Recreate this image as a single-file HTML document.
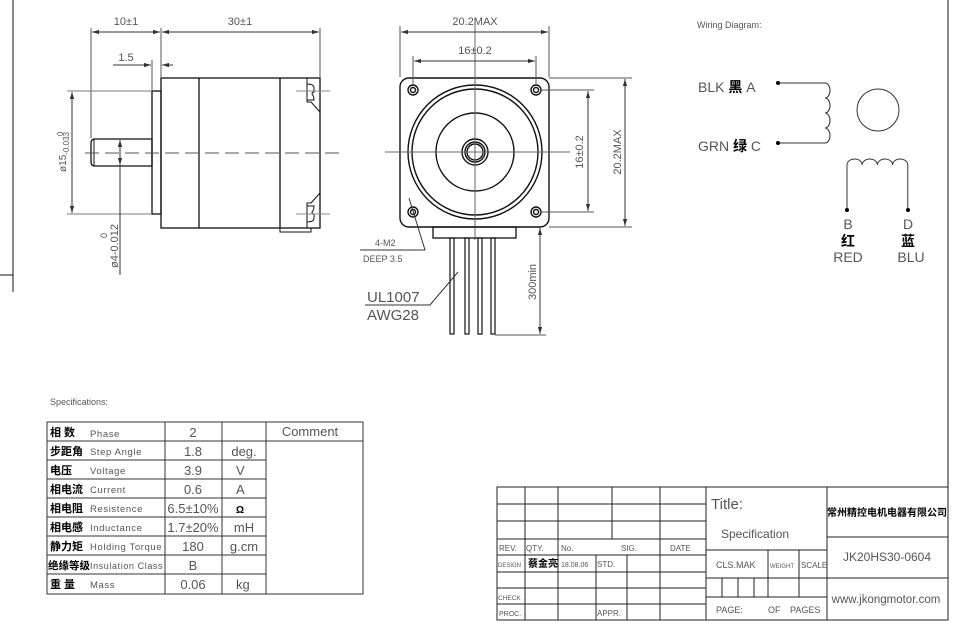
<!DOCTYPE html>
<html><head><meta charset="utf-8"><style>
html,body{margin:0;padding:0;background:#fff;}
svg{display:block;}
text{font-family:"Liberation Sans","Noto Sans CJK SC",sans-serif;fill:#555;}
.b{fill:#000;font-weight:bold;}
.e{letter-spacing:0.6px;}
</style></head><body>
<svg width="954" height="628" viewBox="0 0 954 628" xmlns="http://www.w3.org/2000/svg">
<defs>
<marker id="a" viewBox="0 0 10 10" refX="10" refY="5" markerWidth="7" markerHeight="7" orient="auto-start-reverse"><path d="M0,2 L10,5 L0,8 z" fill="#333"/></marker>
</defs>
<g stroke="#111" fill="none" stroke-width="1">
<line x1="13" y1="0" x2="13" y2="292"/><line x1="0" y1="275" x2="13" y2="275"/>
<line x1="948" y1="0" x2="948" y2="620"/>
<path d="M95,139 H152 V166 H95 Q91,166 91,162 V143 Q91,139 95,139 Z" stroke-width="1.3"/>
<line x1="94" y1="139" x2="94" y2="166"/>
<rect x="152" y="91" width="9" height="123" stroke-width="1.3"/>
<rect x="161" y="78" width="159" height="150" stroke-width="1.3"/>
<line x1="199" y1="78" x2="199" y2="228" stroke-width="1.3"/>
<line x1="280" y1="78" x2="280" y2="228" stroke-width="1.3"/>
<rect x="280" y="228" width="31" height="4"/>
<path d="M307,78 V102 H311 L320,112 M307,102 V84 Q314,84 314,88 V92 Q312,92 312,94 Q314,96 314,100 H307" />
<path d="M307,228 V203 H311 L320,193 M307,203 V222 Q314,222 314,218 V214 Q312,214 312,212 Q314,210 314,206 H307" />
<line x1="85" y1="153" x2="340" y2="153" stroke="#555" stroke-dasharray="14,6"/>
<line x1="296" y1="91" x2="330" y2="91" stroke="#888"/><line x1="296" y1="214" x2="330" y2="214" stroke="#888"/>
<line x1="91" y1="28" x2="91" y2="138" stroke="#555"/>
<line x1="161" y1="28" x2="161" y2="77" stroke="#555"/>
<line x1="320" y1="28" x2="320" y2="77" stroke="#555"/>
<line x1="152" y1="60" x2="152" y2="90" stroke="#555"/>
<line x1="92" y1="32" x2="160" y2="32" stroke="#333" marker-start="url(#a)" marker-end="url(#a)"/>
<line x1="162" y1="32" x2="319" y2="32" stroke="#333" marker-start="url(#a)" marker-end="url(#a)"/>
<line x1="113" y1="65" x2="151" y2="65" stroke="#333" marker-end="url(#a)"/>
<line x1="173" y1="65" x2="162" y2="65" stroke="#333" marker-end="url(#a)"/>
<line x1="67" y1="91" x2="151" y2="91" stroke="#777"/><line x1="67" y1="214" x2="151" y2="214" stroke="#777"/>
<line x1="72" y1="92" x2="72" y2="213" stroke="#333" marker-start="url(#a)" marker-end="url(#a)"/>
<line x1="120" y1="140" x2="120" y2="165" stroke="#333" marker-start="url(#a)" marker-end="url(#a)"/>
<line x1="120" y1="165" x2="120" y2="275" stroke="#333"/>
<rect x="400" y="78" width="149" height="149" rx="9" stroke-width="1.4"/>
<g stroke-width="1.4">
<circle cx="413" cy="90" r="5"/><circle cx="413" cy="90" r="2.5"/>
<circle cx="536" cy="90" r="5"/><circle cx="536" cy="90" r="2.5"/>
<circle cx="413" cy="212" r="5"/><circle cx="413" cy="212" r="2.5"/>
<circle cx="536" cy="212" r="5"/><circle cx="536" cy="212" r="2.5"/>
<circle cx="475" cy="152" r="67"/><circle cx="475" cy="152" r="63"/>
<circle cx="475" cy="152" r="39"/>
<circle cx="475" cy="152" r="13"/><circle cx="475" cy="152" r="10"/><circle cx="475" cy="152" r="8"/>
</g>
<line x1="385" y1="152" x2="570" y2="152" stroke="#666"/>
<line x1="475" y1="18" x2="475" y2="240" stroke="#666"/>
<rect x="433" y="227" width="83" height="11" stroke-width="1.3"/>
<g stroke-width="1.2">
<rect x="450" y="238" width="4" height="96"/><rect x="465" y="238" width="4" height="96"/>
<rect x="478" y="238" width="4" height="96"/><rect x="491" y="238" width="4" height="96"/>
</g>
<line x1="400" y1="26" x2="400" y2="77" stroke="#555"/><line x1="549" y1="26" x2="549" y2="77" stroke="#555"/>
<line x1="413" y1="56" x2="413" y2="85" stroke="#555"/><line x1="536" y1="56" x2="536" y2="85" stroke="#555"/>
<line x1="401" y1="32" x2="548" y2="32" stroke="#333" marker-start="url(#a)" marker-end="url(#a)"/>
<line x1="414" y1="61" x2="535" y2="61" stroke="#333" marker-start="url(#a)" marker-end="url(#a)"/>
<line x1="541" y1="90" x2="594" y2="90" stroke="#555"/><line x1="541" y1="212" x2="594" y2="212" stroke="#555"/>
<line x1="549" y1="78" x2="632" y2="78" stroke="#555"/><line x1="549" y1="227" x2="632" y2="227" stroke="#555"/>
<line x1="588" y1="91" x2="588" y2="211" stroke="#333" marker-start="url(#a)" marker-end="url(#a)"/>
<line x1="625" y1="79" x2="625" y2="226" stroke="#333" marker-start="url(#a)" marker-end="url(#a)"/>
<line x1="495" y1="335" x2="546" y2="335" stroke="#555"/>
<line x1="540" y1="228" x2="540" y2="334" stroke="#333" marker-start="url(#a)" marker-end="url(#a)"/>
<polyline points="409,198 425,250 360,250" stroke="#333"/>
<polyline points="458,272 430,305 365,305" stroke="#333"/>
<g stroke="#333">
<polyline points="778,83 825,83"/>
<path d="M825,83 a5,7.5 0 0 1 0,15 a5,7.5 0 0 1 0,15 a5,7.5 0 0 1 0,15 a5,7.5 0 0 1 0,15"/>
<polyline points="778,143 825,143"/>
<circle cx="878" cy="110" r="21"/>
<path d="M847,210 V165 a7.6,6 0 0 1 15.2,0 a7.6,6 0 0 1 15.2,0 a7.6,6 0 0 1 15.2,0 a7.6,6 0 0 1 15.2,0 V210"/>
</g>
<g fill="#000" stroke="none">
<circle cx="778" cy="83" r="2"/><circle cx="778" cy="143" r="2"/><circle cx="847" cy="210" r="2"/><circle cx="908" cy="210" r="2"/>
</g>
<g stroke="#333">
<rect x="47" y="422" width="316" height="172"/>
<line x1="47" y1="441" x2="363" y2="441"/>
<line x1="47" y1="460" x2="266" y2="460"/><line x1="47" y1="479" x2="266" y2="479"/>
<line x1="47" y1="498" x2="266" y2="498"/><line x1="47" y1="517" x2="266" y2="517"/>
<line x1="47" y1="536" x2="266" y2="536"/><line x1="47" y1="555" x2="266" y2="555"/>
<line x1="47" y1="574" x2="266" y2="574"/>
<line x1="165" y1="422" x2="165" y2="594"/><line x1="222" y1="422" x2="222" y2="594"/><line x1="266" y1="422" x2="266" y2="594"/>
</g>
<g stroke="#222">
<rect x="497" y="487" width="451" height="133"/>
<line x1="497" y1="504" x2="706" y2="504"/><line x1="497" y1="521" x2="706" y2="521"/>
<line x1="497" y1="539" x2="706" y2="539"/><line x1="497" y1="555" x2="706" y2="555"/>
<line x1="497" y1="572" x2="706" y2="572"/><line x1="497" y1="588" x2="706" y2="588"/>
<line x1="497" y1="604" x2="706" y2="604"/>
<line x1="525" y1="487" x2="525" y2="620"/><line x1="558" y1="487" x2="558" y2="620"/>
<line x1="612" y1="487" x2="612" y2="539"/><line x1="596" y1="555" x2="596" y2="620"/>
<line x1="627" y1="555" x2="627" y2="620"/>
<line x1="660" y1="487" x2="660" y2="620"/>
<line x1="706" y1="487" x2="706" y2="620"/><line x1="827" y1="487" x2="827" y2="620"/>
<line x1="706" y1="550" x2="827" y2="550"/><line x1="706" y1="578" x2="948" y2="578"/>
<line x1="706" y1="597" x2="827" y2="597"/>
<line x1="827" y1="537" x2="948" y2="537"/>
<line x1="768" y1="550" x2="768" y2="597"/><line x1="799" y1="550" x2="799" y2="597"/>
<line x1="722" y1="578" x2="722" y2="597"/><line x1="738" y1="578" x2="738" y2="597"/><line x1="754" y1="578" x2="754" y2="597"/>
</g>
</g>
<g font-size="11">
<text x="126" y="25" text-anchor="middle">10±1</text>
<text x="240" y="25" text-anchor="middle">30±1</text>
<text x="126" y="61" text-anchor="middle">1.5</text>
<text transform="translate(66,152) rotate(-90)" text-anchor="middle" font-size="10">ø15<tspan font-size="8" dy="3">-0.033</tspan></text>
<text transform="translate(63,136) rotate(-90)" font-size="8">0</text>
<text transform="translate(118,246) rotate(-90)" text-anchor="middle">ø4-0.012</text>
<text transform="translate(107,238) rotate(-90)" font-size="9">0</text>
<text x="475" y="25" text-anchor="middle">20.2MAX</text>
<text x="475" y="54" text-anchor="middle">16±0.2</text>
<text transform="translate(583,152) rotate(-90)" text-anchor="middle">16±0.2</text>
<text transform="translate(621,152) rotate(-90)" text-anchor="middle">20.2MAX</text>
<text transform="translate(536,282) rotate(-90)" text-anchor="middle">300min</text>
<text x="375" y="246" font-size="9">4-M2</text>
<text x="363" y="262" font-size="9">DEEP 3.5</text>
<text x="367" y="302" font-size="15">UL1007</text>
<text x="367" y="320" font-size="15">AWG28</text>
<text x="697" y="28" font-size="9">Wiring Diagram:</text>
<text x="698" y="92" font-size="14">BLK <tspan class="b">黑</tspan> A</text>
<text x="698" y="151" font-size="14">GRN <tspan class="b">绿</tspan> C</text>
<text x="848" y="229" font-size="14" text-anchor="middle">B</text>
<text x="908" y="229" font-size="14" text-anchor="middle">D</text>
<text x="848" y="246" font-size="14" text-anchor="middle" class="b">红</text>
<text x="908" y="246" font-size="14" text-anchor="middle" class="b">蓝</text>
<text x="848" y="262" font-size="14" text-anchor="middle">RED</text>
<text x="911" y="262" font-size="14" text-anchor="middle">BLU</text>
<text x="50" y="405" font-size="9">Specifications:</text>
</g>
<g font-size="9.5">
<text x="50" y="436" class="b" font-size="11">相 数</text><text x="90" y="437" class="e">Phase</text>
<text x="50" y="455" class="b" font-size="11">步距角</text><text x="90" y="455" class="e">Step Angle</text>
<text x="50" y="474" class="b" font-size="11">电压</text><text x="90" y="474" class="e">Voltage</text>
<text x="50" y="493" class="b" font-size="11">相电流</text><text x="90" y="493" class="e">Current</text>
<text x="50" y="512" class="b" font-size="11">相电阻</text><text x="90" y="512" class="e">Resistence</text>
<text x="50" y="531" class="b" font-size="11">相电感</text><text x="90" y="531" class="e">Inductance</text>
<text x="50" y="550" class="b" font-size="11">静力矩</text><text x="90" y="550" class="e">Holding Torque</text>
<text x="48" y="569" class="b" font-size="10.5">绝缘等级</text><text x="90" y="569" class="e" font-size="9">Insulation Class</text>
<text x="50" y="588" class="b" font-size="11">重 量</text><text x="90" y="588" class="e">Mass</text>
</g>
<g font-size="13" text-anchor="middle">
<text x="193" y="437">2</text><text x="193" y="456">1.8</text><text x="193" y="475">3.9</text>
<text x="193" y="494">0.6</text><text x="193" y="513">6.5±10%</text><text x="193" y="532">1.7±20%</text>
<text x="193" y="551">180</text><text x="193" y="570">B</text><text x="193" y="589">0.06</text>
<text x="244" y="456">deg.</text><text x="236" y="475" text-anchor="start">V</text><text x="236" y="494" text-anchor="start">A</text>
<text x="236" y="513" text-anchor="start" class="b" font-size="10">Ω</text><text x="244" y="532">mH</text>
<text x="244" y="551">g.cm</text><text x="236" y="589" text-anchor="start">kg</text>
<text x="310" y="436">Comment</text>
</g>
<g font-size="8">
<text x="499" y="551">REV.</text><text x="526" y="551">QTY.</text><text x="561" y="551">No.</text>
<text x="621" y="551">SIG.</text><text x="670" y="551">DATE</text>
<text x="498" y="567" font-size="6">DESIGN</text><text x="528" y="567" class="b" font-size="10">蔡金亮</text>
<text x="561" y="567" font-size="7">18.08.06</text><text x="597" y="567">STD.</text>
<text x="498" y="600" font-size="6.5">CHECK</text><text x="499" y="616" font-size="7">PROC.</text>
<text x="597" y="616">APPR.</text>
<text x="716" y="568" font-size="9">CLS.MAK</text><text x="770" y="568" font-size="6">WEIGHT</text><text x="801" y="568" font-size="8">SCALE</text>
<text x="716" y="613" font-size="9">PAGE:</text><text x="768" y="613" font-size="9">OF</text><text x="790" y="613" font-size="9">PAGES</text>
</g>
<text x="711" y="509" font-size="15">Title:</text>
<text x="721" y="538" font-size="12">Specification</text>
<text x="887" y="516" font-size="10" text-anchor="middle" class="b">常州精控电机电器有限公司</text>
<text x="887" y="561" font-size="12" text-anchor="middle" fill="#222">JK20HS30-0604</text>
<text x="886" y="603" font-size="11.5" text-anchor="middle" fill="#222">www.jkongmotor.com</text>
</svg>
</body></html>
